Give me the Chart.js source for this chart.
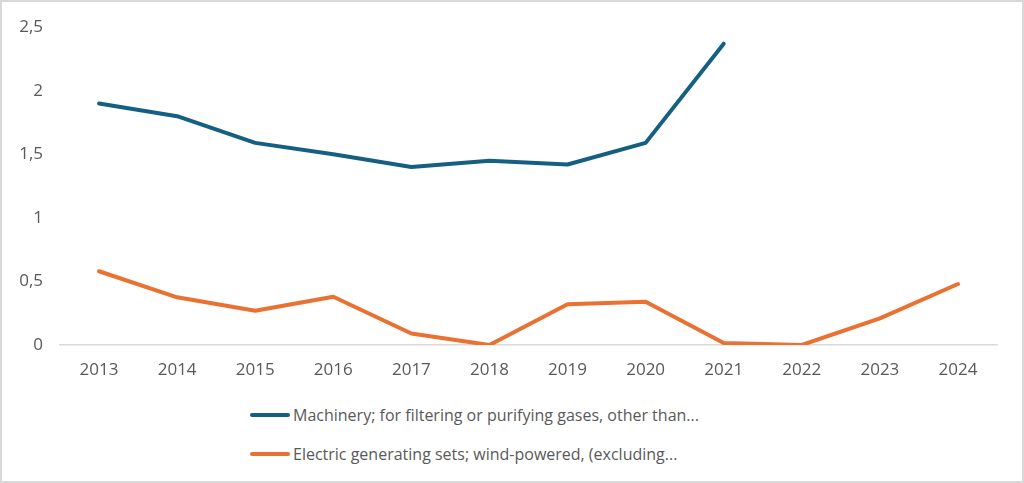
<!DOCTYPE html>
<html>
<head>
<meta charset="utf-8">
<script src="https://cdn.jsdelivr.net/npm/chart.js@4"></script>
<style>
  html, body { margin: 0; padding: 0; background: #fff; }
  #wrap { position: relative; width: 1024px; height: 483px; overflow: hidden; font-family: "Open Sans", sans-serif; }
  #frame { position: absolute; left: 0; top: 0; width: 1024px; height: 483px; box-sizing: border-box; border: 2px solid #d9d9d9; pointer-events: none; }
  #box { position: absolute; left: 0; top: 0; width: 1024px; height: 385px; }
  #legend { position: absolute; left: 250px; top: 395px; }
  .item { display: flex; align-items: center; height: 39px; color: #595959; font-size: 16px; }
  .swatch { width: 40px; height: 4px; border-radius: 2px; margin-right: 3px; }
</style>
</head>
<body>
<div id="wrap">
  <div id="box"><canvas id="grafico"></canvas></div>
  <div id="legend"></div>
  <div id="frame"></div>
</div>
<script>
var years = ['2013', '2014', '2015', '2016', '2017', '2018', '2019', '2020', '2021', '2022', '2023', '2024'];
var machinery = [1.90, 1.80, 1.59, 1.50, 1.40, 1.45, 1.42, 1.59, 2.37, null, null, null];
var windSets = [0.58, 0.375, 0.27, 0.38, 0.09, 0.0, 0.32, 0.34, 0.015, 0.0, 0.21, 0.48];
var seriesNames = [
  'Machinery; for filtering or purifying gases, other than...',
  'Electric generating sets; wind-powered, (excluding...'
];
var yTicks = [0, 0.5, 1, 1.5, 2, 2.5];

var colors = ['#156082', '#E97132'];
var textColor = '#595959';

var graficoElement = document.getElementById('grafico');
var chart = new Chart(graficoElement, {
  type: 'line',
  data: {
    labels: years,
    datasets: [{
      label: seriesNames[0],
      data: machinery,
      borderColor: colors[0],
      backgroundColor: colors[0],
      borderWidth: 4,
      pointRadius: 0,
      borderCapStyle: 'round',
      borderJoinStyle: 'round',
      tension: 0
    }, {
      label: seriesNames[1],
      data: windSets,
      borderColor: colors[1],
      backgroundColor: colors[1],
      borderWidth: 4,
      pointRadius: 0,
      borderCapStyle: 'round',
      borderJoinStyle: 'round',
      tension: 0
    }]
  },
  options: {
    responsive: true,
    maintainAspectRatio: false,
    animation: false,
    layout: { padding: { top: 17, right: 27, bottom: 0, left: 0 } },
    plugins: {
      legend: { display: false },
      tooltip: { enabled: false }
    },
    scales: {
      x: {
        offset: true,
        grid: { display: false, drawTicks: false },
        border: { display: true, color: '#d9d9d9', width: 1.5 },
        ticks: { color: textColor, font: { family: 'Open Sans', size: 17 }, padding: 15, maxRotation: 0 },
        afterFit: function(scale) { scale.height = 40; }
      },
      y: {
        min: 0,
        max: 2.5,
        afterBuildTicks: function(scale) { scale.ticks = yTicks.map(function(v) { return { value: v }; }); },
        grid: { display: false, drawTicks: false },
        border: { display: false },
        ticks: {
          color: textColor,
          font: { family: 'Open Sans', size: 17 },
          padding: 17,
          callback: function(v) { return String(v).replace('.', ','); }
        },
        afterFit: function(scale) { scale.width = 60; }
      }
    }
  }
});

// legend built from the datasets
var legend = document.getElementById('legend');
chart.data.datasets.forEach(function(ds) {
  var item = document.createElement('div');
  item.className = 'item';
  var sw = document.createElement('span');
  sw.className = 'swatch';
  sw.style.background = ds.borderColor;
  var tx = document.createElement('span');
  tx.textContent = ds.label;
  item.appendChild(sw);
  item.appendChild(tx);
  legend.appendChild(item);
});
</script>
</body>
</html>
